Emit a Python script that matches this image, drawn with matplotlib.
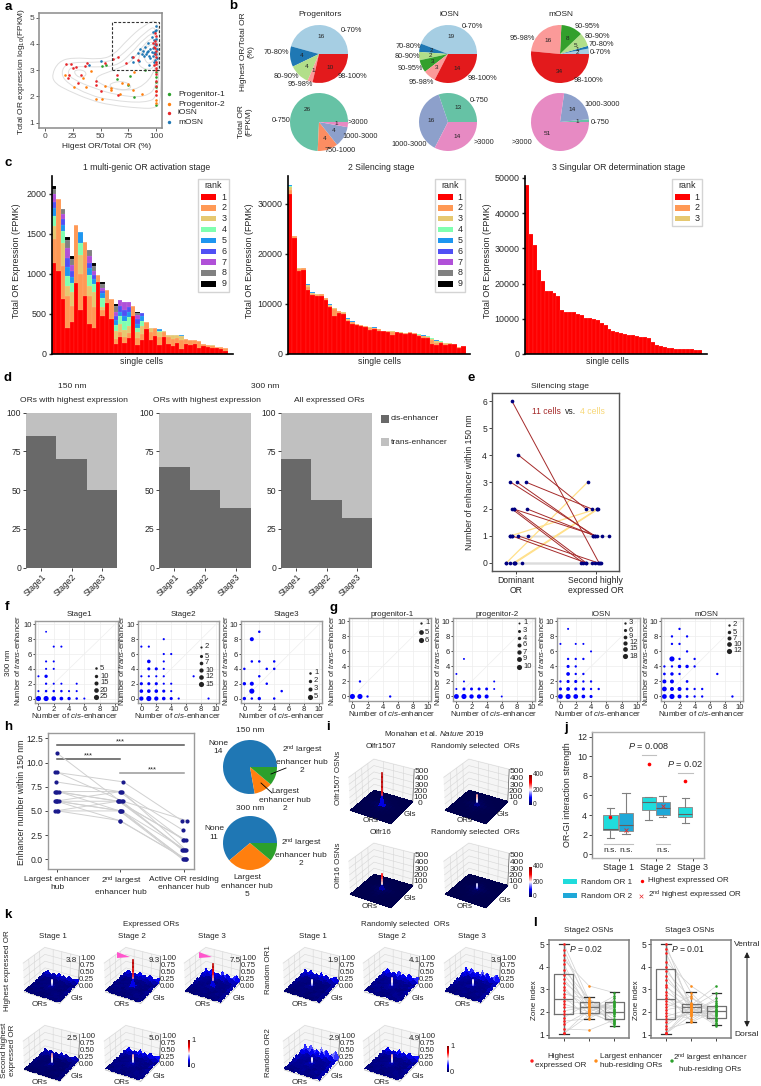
#!/usr/bin/env python
"""Multi-panel OR expression / enhancer hub figure. Writes out.png (761x1086)."""
import numpy as np

import matplotlib
matplotlib.use("Agg")
import matplotlib.pyplot as plt
from matplotlib.patches import PathPatch, Polygon, Rectangle
from matplotlib.path import Path

plt.rcParams["font.family"] = ["Liberation Sans", "DejaVu Sans"]
plt.rcParams["mathtext.fontset"] = "custom"
plt.rcParams["mathtext.rm"] = "Liberation Sans"
plt.rcParams["mathtext.it"] = "Liberation Sans:italic"
plt.rcParams["mathtext.bf"] = "Liberation Sans:bold"
plt.rcParams["axes.unicode_minus"] = False

W, H = 761, 1086
GREY = "#8a8a8a"
DARK = "#262626"

# ---- panel a
A_P1 = [(51, 3.15), (55, 3.21), (65, 2.68), (75, 2.45), (77, 2.78), (80, 1.99), (90, 3.0),
        (100, 1.67), (100, 2.35), (100, 2.55), (100, 2.75), (100, 2.95)]
A_P2 = [(18, 2.82), (26, 2.37), (34.5, 2.69), (36.6, 2.38), (41.4, 2.98), (46, 1.89), (51.4, 1.89),
        (54, 2.4), (59.5, 2.33), (59.5, 2.24), (67.5, 2.08), (69, 2.51), (75, 2.47), (79.6, 2.24),
        (87, 2.08), (80.5, 2.92), (100, 1.86), (100, 1.77), (100, 2.2)]
A_IOSN = [(18.6, 3.23), (23, 3.22), (25, 3.1), (28, 3.11), (38, 3.26), (36, 3.17), (54, 3.29),
          (61, 3.43), (65.5, 3.49), (73, 3.26), (79, 3.51), (84, 3.39), (21.6, 2.8), (20.7, 2.7),
          (32, 2.82), (30, 2.5), (46, 2.59), (46, 2.43), (50, 2.22), (65, 2.82), (65.5, 2.05),
          (99, 4.4), (100, 4.3), (99, 4.1), (100, 4.0), (98, 3.9), (100, 3.75), (99, 3.6),
          (100, 3.5), (100, 3.3), (98, 3.2), (100, 3.1), (100, 3.0), (100, 2.85), (100, 2.6),
          (100, 2.4), (100, 2.2), (100, 2.05), (99, 3.85), (97, 4.05), (100, 3.25)]
A_MOSN = [(50, 3.35), (40, 3.2), (79.6, 3.3), (84, 3.64), (78, 3.5), (86, 3.8), (87, 3.6), (88, 3.72),
          (89, 3.55), (90, 3.9), (91, 3.62), (92, 3.7), (93, 3.75), (93, 4.02), (94, 3.55), (95, 3.8),
          (95, 3.45), (96, 3.7), (96, 4.25), (97, 3.55), (97, 3.85), (97, 4.45), (98, 3.65),
          (98, 4.15), (98, 3.3), (99, 3.7), (99, 4.0), (99, 4.5), (99, 3.4), (100, 4.68), (100, 4.55),
          (100, 3.95), (100, 3.6), (100, 4.2), (101, 3.8), (101, 3.45), (94, 3.2), (85, 3.35)]
A_CONTOURS = [
    [(6, 2.82), (12, 3.32), (24, 3.49), (50, 3.41), (62, 3.58), (74, 4.15), (89, 4.72), (104, 5.0),
     (105, 1.86), (100, 1.55), (86, 1.55), (59, 1.67), (41, 1.86), (20, 2.24), (9, 2.5)],
    [(14, 2.9), (20, 3.3), (45, 3.3), (62, 3.35), (75, 3.8), (90, 4.45), (102, 4.75), (103, 2.0),
     (90, 1.75), (60, 1.85), (40, 2.05), (20, 2.5)],
    [(20, 2.9), (24, 3.15), (45, 3.12), (64, 3.15), (77, 3.6), (90, 4.25), (101, 4.5), (102, 2.4),
     (90, 1.95), (65, 2.05), (45, 2.3), (25, 2.65)],
    [(45, 2.75), (62, 3.0), (78, 3.3), (90, 4.05), (100, 4.3), (101, 3.0), (85, 2.25), (65, 2.25), (48, 2.5)],
    [(82, 3.3), (90, 3.95), (99, 4.15), (100, 3.1), (90, 3.0)],
    [(88, 3.65), (93, 3.95), (99, 4.0), (99.5, 3.4), (92, 3.2)],
    [(25, 3.0), (35, 3.02), (38, 2.8), (30, 2.7)],
    [(55, 2.45), (70, 2.62), (80, 2.35), (68, 2.2)],
]

# ---- panel b
B_TOP_LABELS = ["0-70%", "70-80%", "80-90%", "90-95%", "95-98%", "98-100%"]
B_TOP_COLORS = ["#a6cee3", "#1f78b4", "#b2df8a", "#33a02c", "#fb9a99", "#e31a1c"]
B_TOP = {"Progenitors": [16, 4, 4, 0, 1, 10], "iOSN": [19, 2, 2, 3, 3, 14], "mOSN": [2, 1, 5, 8, 16, 34]}
B_LOW_COLORS = ["#66c2a5", "#fc8d62", "#8da0cb", "#e78ac3"]
B_LOW = {"Progenitors": [26, 4, 4, 1], "iOSN": [13, 0, 16, 14], "mOSN": [1, 0, 14, 51]}

# ---- panel c
C_COLORS = ["#ff0000", "#ff9955", "#e6c870", "#80ffb0", "#1e96f0", "#5050f5", "#b050d8", "#808080", "#000000"]
C1_CELLS = [
    [1130, 300, 170, 120, 100, 80, 90, 70, 40], [1040, 890], [690, 410, 290, 140, 80, 70, 70, 60],
    [320, 400, 130, 120, 120, 110, 120, 100, 40], [400, 200, 170, 110, 80, 70, 80, 70, 40], [890, 720],
    [550, 450, 230, 160, 130], [720, 680], [370, 350, 130, 130, 90, 70, 80, 80],
    [320, 270, 180, 100, 60, 60, 50, 60, 30], [900, 90], [480, 70, 30, 120, 60, 30, 30, 50, 30],
    [640, 160], [440, 240], [120, 70, 100, 70, 60, 50, 60, 70, 20], [210, 60, 100, 100, 60, 70, 70],
    [140, 70, 90, 110, 70, 70, 100], [200, 60, 90, 110, 60, 60, 70], [470, 130],
    [110, 90, 70, 50, 60, 60, 50, 20, 20], [175, 70, 100, 70, 60, 35], [310, 90], [180, 100, 50],
    [220, 100], [110, 100, 60, 20, 20], [210, 60, 20], [125, 90, 25], [100, 90, 50], [135, 60, 45],
    [60, 110, 50, 0, 20], [130, 60], [110, 60], [130, 40], [80, 80], [100, 20], [85, 25], [80, 25, 5],
    [80, 5], [60, 25], [40, 40],
]
C2_R1 = [32000, 23200, 16500, 16700, 12800, 11800, 11600, 11600, 10800, 9300, 7600, 8200, 8000, 6500,
         6000, 5700, 5600, 5400, 4700, 5000, 4600, 4500, 4400, 3800, 4300, 4200, 4000, 4100, 4000, 3600,
         3200, 3100, 1900, 1700, 2200, 1700, 1900, 1900, 1200, 1500]
C2_R2 = [800, 300, 500, 400, 500, 200, 200, 300, 300, 300, 1400, 400, 200, 300, 300, 200, 150, 100, 500,
         100, 300, 100, 100, 600, 50, 50, 100, 200, 100, 200, 300, 200, 900, 500, 100, 300, 150, 50, 200, 100]
C2_R3 = [500, 0, 100, 100, 400, 100, 200, 100, 100, 100, 200, 0, 100, 100, 100, 50, 50, 100, 100, 0, 100, 0,
         100, 100, 50, 50, 100, 50, 50, 50, 100, 100, 200, 300, 100, 100, 50, 0, 50, 0]
C2_R4 = [200, 0, 0, 0, 100, 100, 0, 0, 0, 100, 0, 0, 0, 100, 50, 0, 0, 0, 0, 100, 0, 0, 0, 0, 0, 0, 0, 0,
         0, 50, 50, 100, 100, 100, 100, 50, 50, 0, 0, 0]
C2_R5 = [300, 0, 0, 0, 200, 100, 0, 0, 0, 100, 0, 0, 0, 100, 100, 0, 0, 0, 0, 100, 0, 0, 0, 0, 0, 0, 0, 0,
         0, 0, 100, 150, 100, 100, 0, 0, 0, 0, 0, 0]
C3_TOTAL = [48000, 34000, 30800, 23800, 20800, 18000, 17800, 17400, 16400, 12400, 12000, 11900, 11800,
            11400, 11000, 10200, 10100, 10000, 9700, 8900, 8300, 7000, 6500, 6200, 6000, 5800, 5500, 5300,
            5000, 4900, 4700, 4400, 3300, 2500, 2300, 2000, 1800, 1700, 1500, 1400, 1350, 1300, 1300, 1250, 1100]

# ---- panel d
D_STAGES = ["Stage1", "Stage2", "Stage3"]
D_CIS_150 = [85, 70, 50]
D_CIS_300 = [65, 50, 38.5]
D_CIS_ALL = [70, 44, 32]

# ---- panel e: (dominant x, y, second x, y)
E_RED = [(-.05, 6, 1.04, 0), (.03, 4, .88, 2), (-.07, 3, .99, 1), (.01, 3, .97, 1), (.12, 3, .95, 2),
         (.14, 2, .99, 1), (-.05, 2, .84, 0), (-.03, 2, 1.01, 1), (-.02, 2, .88, 0), (.03, 1, 1.03, 0),
         (-.05, 1, .88, 0)]
E_YELLOW = [(-.12, 0, .9, 3), (-.07, 1, 1.01, 2), (-.03, 0, 1.02, 2), (-.01, 0, 1.03, 2)]
E_GREY = [(-.05, 1, 1.08, 1), (.15, 1, 1.17, 1), (-.08, 1, .97, 1), (.08, 0, .95, 0), (-.07, 0, 1.07, 0),
          (-.12, 0, .82, 0), (-.03, 0, .99, 0), (-.01, 0, 1.05, 0)]

# ---- panels f, g: (cis, trans, cells)
F_STAGE1 = [(0, 0, 25), (1, 0, 25), (2, 0, 20), (3, 0, 12), (4, 0, 10), (5, 0, 5), (6, 0, 3), (0, 1, 3), (1, 1, 5),
            (2, 1, 5), (3, 1, 5), (4, 1, 3), (5, 1, 3), (1, 2, 4), (2, 2, 3), (3, 2, 3), (5, 2, 3), (0, 3, 3),
            (1, 3, 10), (1, 4, 3), (2, 4, 3), (1, 5, 3), (2, 5, 3), (2, 7, 3), (3, 7, 3), (1, 9, 2)]
F_STAGE2 = [(0, 0, 10), (1, 0, 15), (2, 0, 10), (3, 0, 7), (4, 0, 5), (5, 0, 2), (9, 0, 2), (0, 1, 7), (1, 1, 7),
            (2, 1, 7), (3, 1, 5), (4, 1, 2), (0, 2, 5), (1, 2, 5), (2, 2, 5), (3, 2, 2), (4, 2, 2), (0, 3, 2),
            (1, 3, 2), (2, 3, 2), (3, 3, 2), (7, 3, 2), (1, 4, 5), (2, 4, 5), (3, 4, 2), (1, 5, 7), (3, 5, 2),
            (3, 6, 2), (4, 6, 2), (0, 7, 2), (1, 7, 2), (3, 8, 2)]
F_STAGE3 = [(0, 0, 2), (1, 0, 1), (2, 0, 2), (4, 0, 1), (1, 1, 5), (5, 1, 1), (0, 2, 2), (1, 2, 3), (3, 2, 1),
            (2, 3, 1), (0, 4, 1), (3, 4, 1), (4, 4, 1), (1, 5, 1), (2, 5, 1), (4, 5, 1), (1, 8, 3), (2, 9, 1)]
G_PROG1 = [(0, 0, 6), (1, 0, 6), (2, 0, 1), (5, 0, 1), (1, 2, 1)]
G_PROG2 = [(0, 0, 9), (1, 0, 10), (2, 0, 7), (3, 0, 7), (4, 0, 6), (6, 0, 1), (0, 1, 1), (1, 1, 3), (2, 1, 3),
           (3, 1, 3), (4, 1, 3), (5, 1, 1), (1, 2, 1), (5, 2, 1), (0, 3, 1), (1, 5, 1)]
G_IOSN = [(0, 0, 15), (1, 0, 18), (2, 0, 15), (3, 0, 9), (4, 0, 6), (0, 1, 6), (1, 1, 9), (2, 1, 6), (3, 1, 6),
          (4, 1, 3), (5, 1, 3), (0, 2, 3), (1, 2, 6), (2, 2, 6), (3, 2, 3), (4, 2, 3), (1, 3, 9), (2, 3, 3),
          (3, 3, 3), (1, 4, 6), (2, 4, 3), (1, 5, 3), (2, 5, 3), (3, 5, 3), (4, 6, 2), (0, 7, 2), (2, 7, 2),
          (3, 7, 2), (1, 9, 2)]
G_MOSN = [(0, 0, 10), (1, 0, 12), (2, 0, 7), (3, 0, 3), (4, 0, 2), (5, 0, 2), (9, 0, 2), (0, 1, 10), (1, 1, 7),
          (2, 1, 7), (3, 1, 3), (4, 1, 2), (5, 1, 2), (0, 2, 7), (1, 2, 7), (3, 2, 3), (0, 3, 3), (1, 3, 5),
          (2, 3, 2), (7, 3, 2), (0, 4, 2), (1, 4, 2), (2, 4, 5), (3, 4, 5), (4, 4, 2), (1, 5, 12), (2, 5, 2),
          (4, 5, 2), (3, 6, 2), (1, 7, 2), (2, 7, 2), (1, 8, 2), (3, 8, 2), (2, 9, 2)]

# ---- panel h: enhancer number per cell at each of the three hubs, with side offsets
H_LARGEST = [11, 9, 9, 8, 7, 7, 7, 7, 6, 6, 6, 6, 6, 5, 5, 5]
H_SECOND = [6, 8, 6, 7, 7, 6, 6, 5, 7, 6, 5, 5, 4, 6, 5, 4]
H_ACTIVE = [1, 4, 4, 2, 1, 2, 1, 0, 3, 1, 0, 0, 0, 2, 1, 0]
H_OFF1 = [0, -.03, .01, -.01, -.03, -.01, .01, .03, -.03, -.01, .01, .03, .0, -.02, .0, .02]
H_OFF2 = [.0, .05, .04, -.01, .03, -.04, -.02, -.01, .01, .03, .03, .0, -.01, -.03, .02, .0]
H_OFF3 = [-.02, -.03, .05, -.01, .03, .03, .0, -.02, -.01, -.03, .0, .02, .04, .01, .02, .03]
H_PIE_150 = [14, 2, 2]
H_PIE_300 = [11, 5, 2]

# ---- panel j
J_STATS = [dict(med=2.6, q1=2.45, q3=4.0, whislo=1.6, whishi=4.7, fliers=[]),
           dict(med=2.95, q1=2.4, q3=4.2, whislo=2.05, whishi=6.25, fliers=[]),
           dict(med=5.35, q1=4.5, q3=5.85, whislo=3.5, whishi=5.85, fliers=[]),
           dict(med=4.75, q1=4.05, q3=5.3, whislo=3.8, whishi=5.9, fliers=[]),
           dict(med=4.1, q1=3.75, q3=4.8, whislo=3.15, whishi=5.7, fliers=[])]
J_POS = [-.22, .2, .81, 1.2, 1.8]
J_COLORS = ["#1fdcdc", "#1fa8d8", "#1fdcdc", "#1fa8d8", "#1fdcdc"]
J_HIGHEST_X = [-.22, .81, 1.8]
J_HIGHEST = [3.8, 9.25, 7.45]
J_SECOND_X = [.19, 1.2]
J_SECOND = [2.45, 4.95]

# ---- panel l
L2_RED = [5.0, 4.75, 4.5, 4.3, 4.1, 3.85, 3.65, 3.45, 3.3, 3.1, 2.95, 2.8, 2.65, 2.5, 2.35, 2.2, 2.05, 1.9, 1.75,
          1.6, 1.45, 1.25, 1.05, 1.05]
L2_ORANGE = [2.5, 2.2, 2.4, 3.15, 2.0, 2.6, 2.3, 2.1, 2.45, 1.9, 2.2, 2.55, 1.75, 2.35, 2.0, 2.15, 2.25, 1.95, 2.4,
             1.7, 2.05, 1.2, 1.85, 2.1]
L2_GREEN = [2.1, 2.4, 1.8, 2.85, 2.5, 1.6, 2.2, 2.7, 1.4, 2.0, 2.3, 1.9, 2.6, 1.5, 2.45, 1.7, 2.15, 1.55, 2.05,
            2.35, 1.45, 1.65, 1.95, 2.25]
L3_RED = [5.0, 4.8, 4.6, 4.2, 4.0, 3.8, 3.6, 3.4, 3.2, 3.1, 2.9, 2.75, 2.6, 2.5, 2.35, 2.2, 2.1, 1.95, 1.8, 1.7,
          1.55, 1.4, 1.25, 1.05, 1.05, 1.05]
L3_ORANGE = [2.1, 2.85, 2.3, 3.15, 2.0, 2.6, 2.2, 2.4, 1.8, 2.35, 2.15, 1.6, 2.25, 1.95, 2.05, 2.7, 2.3, 1.7, 2.15,
             1.9, 2.0, 2.2, 1.55, 1.85, 2.3, 2.1]
L3_GREEN = [2.2, 1.7, 3.15, 2.4, 1.9, 2.1, 2.85, 1.5, 2.3, 2.05, 1.8, 2.25, 1.45, 2.6, 2.0, 1.65, 2.15, 2.3, 1.95,
            1.75, 2.5, 1.6, 2.05, 1.85, 2.2, 1.4]
L2_STATS = [dict(med=2.57, q1=1.9, q3=3.68, whislo=1.03, whishi=5.0, fliers=[]),
            dict(med=2.2, q1=1.94, q3=2.43, whislo=1.7, whishi=2.66, fliers=[]),
            dict(med=2.01, q1=1.68, q3=2.43, whislo=1.38, whishi=2.87, fliers=[])]
L3_STATS = [dict(med=2.57, q1=1.68, q3=3.91, whislo=1.03, whishi=5.0, fliers=[]),
            dict(med=2.2, q1=1.99, q3=2.37, whislo=1.54, whishi=2.87, fliers=[]),
            dict(med=2.06, q1=1.72, q3=2.26, whislo=1.41, whishi=2.82, fliers=[])]

# ---- contact maps in panels i, k: hundredths, rows along GIs, columns along ORs
MAP_GRID = [0, .09, .18, .27, .36, .44, .5, .56, .64, .73, .82, .91, 1]
MAP_A = [[4, 8, 3, 6, 2, 5, 3, 4, 7, 3, 5, 2, 9], [3, 2, 5, 3, 6, 3, 4, 2, 4, 6, 3, 7, 4],
         [6, 4, 3, 7, 4, 2, 5, 6, 3, 4, 8, 3, 5], [2, 7, 5, 3, 5, 6, 4, 3, 5, 7, 3, 4, 10],
         [5, 3, 8, 4, 3, 7, 5, 6, 4, 3, 6, 5, 3], [8, 4, 3, 6, 7, 5, 8, 5, 6, 4, 3, 7, 12],
         [3, 6, 4, 5, 4, 8, 10, 7, 5, 6, 4, 3, 5], [10, 3, 7, 4, 6, 5, 7, 6, 3, 5, 7, 4, 8],
         [4, 5, 3, 8, 3, 6, 4, 5, 8, 3, 4, 6, 14], [12, 4, 6, 3, 7, 4, 6, 3, 4, 7, 5, 3, 6],
         [5, 9, 4, 10, 5, 8, 4, 9, 6, 5, 11, 4, 10], [14, 7, 16, 6, 12, 9, 18, 7, 13, 8, 6, 15, 8],
         [9, 22, 8, 15, 11, 26, 10, 19, 8, 24, 12, 17, 22]]
MAP_B = [[3, 5, 4, 2, 7, 3, 4, 6, 3, 5, 2, 8, 4], [6, 3, 2, 6, 3, 4, 7, 2, 5, 3, 6, 3, 11],
         [3, 7, 5, 3, 4, 8, 3, 5, 4, 7, 3, 5, 6], [9, 4, 3, 8, 5, 3, 6, 4, 3, 5, 8, 4, 13],
         [4, 6, 7, 3, 6, 5, 4, 7, 6, 3, 4, 6, 5], [13, 3, 5, 4, 8, 7, 9, 5, 4, 8, 5, 3, 9],
         [5, 8, 4, 7, 3, 9, 12, 8, 3, 4, 7, 5, 17], [16, 4, 6, 3, 5, 6, 8, 4, 7, 6, 3, 8, 6],
         [6, 5, 9, 5, 7, 3, 5, 6, 5, 4, 9, 4, 19], [11, 8, 3, 6, 4, 8, 4, 3, 8, 5, 4, 7, 8],
         [20, 6, 12, 5, 14, 6, 10, 7, 5, 12, 6, 9, 15], [8, 18, 7, 22, 8, 16, 9, 24, 10, 7, 20, 8, 11],
         [25, 10, 28, 12, 20, 9, 32, 13, 27, 11, 18, 30, 14]]
MAP_FLAT = [[1, 1, 1, 2, 1, 1, 2, 1, 1, 2, 1, 1, 1], [1, 2, 1, 1, 2, 2, 3, 2, 1, 1, 2, 1, 1],
            [2, 1, 2, 1, 2, 3, 4, 3, 2, 1, 1, 2, 1], [1, 1, 2, 2, 3, 4, 6, 4, 3, 2, 2, 1, 1],
            [1, 2, 2, 3, 4, 6, 9, 6, 4, 3, 1, 1, 2], [2, 1, 3, 4, 6, 12, 16, 12, 6, 4, 3, 2, 1],
            [3, 3, 4, 6, 9, 16, 20, 16, 9, 6, 4, 3, 3], [2, 1, 3, 4, 6, 12, 16, 12, 6, 4, 3, 1, 1],
            [1, 2, 2, 3, 4, 6, 9, 6, 4, 3, 2, 2, 1], [1, 1, 2, 2, 3, 4, 6, 4, 3, 2, 1, 1, 2],
            [2, 1, 1, 2, 2, 3, 4, 3, 2, 1, 2, 1, 1], [1, 1, 2, 1, 2, 2, 3, 2, 1, 2, 1, 1, 1],
            [1, 1, 1, 1, 1, 1, 2, 1, 1, 1, 1, 2, 1]]
# corner x, row y, texture, amplitude, central peak
K_PANELS = [(23, 975, MAP_A, .8, .3), (104, 975, MAP_A, .9, 1.0), (184, 975, MAP_B, .9, .85),
            (283, 975, MAP_B, .75, .3), (363, 975, MAP_A, 1.1, .35), (444, 975, MAP_B, 1.0, .3),
            (23, 1053, MAP_B, .55, .42), (104, 1053, MAP_A, 1.0, .4),
            (283, 1053, MAP_B, 1.15, .3), (363, 1053, MAP_A, 1.0, .4)]
K_VALUES = ["3.8", "9.3", "7.5", "1.9", "4.1", "3.9", "2.5", "5.0", "2.9", "4.9"]
# centre x, centre y, central peak
I_PANELS = [(381, 791, 500), (476, 791, 170), (381, 875, 250), (476, 875, 90)]
SPIKE_STEPS = [.15, .3, .45, .6, .75, .9, 1.0]


fig = plt.figure(figsize=(W / 100, H / 100), dpi=100)
ov = fig.add_axes([0, 0, 1, 1], zorder=50)
ov.set_xlim(0, W)
ov.set_ylim(H, 0)
ov.axis("off")


def T(x, y, s, fs=6.0, ha="center", va="center", **kw):
    ov.text(x, y, s, fontsize=fs, ha=ha, va=va, color=kw.pop("color", DARK), **kw)


def pax(l, t, r, b, **kw):
    return fig.add_axes([l / W, 1 - b / H, (r - l) / W, (b - t) / H], **kw)


def frame(ax, color=GREY, lw=1.0):
    for s in ax.spines.values():
        s.set_color(color)
        s.set_linewidth(lw)


def smooth_path(pts):
    """Closed outline: points act as quadratic control points."""
    pts = np.asarray(pts, float)
    mids = (pts + np.roll(pts, -1, axis=0)) / 2
    verts, codes = [mids[-1]], [Path.MOVETO]
    for p, m in zip(pts, mids):
        verts += [p, m]
        codes += [Path.CURVE3, Path.CURVE3]
    return Path(verts, codes)


def ticks(ax, fs=6.0, length=2, color=DARK):
    ax.tick_params(labelsize=fs, length=length, width=.6, pad=1.5, colors=color)


for letter, x, y in [("a", 8, 7), ("b", 233, 6), ("c", 8, 163), ("d", 8, 378), ("e", 471, 378), ("f", 7, 607),
                     ("g", 334, 608), ("h", 8, 727), ("i", 328, 727), ("j", 566, 728), ("k", 8, 915), ("l", 535, 923)]:
    T(x, y, letter, fs=9.5, fontweight="bold", color="black")

# ---- a
ax = pax(39, 13, 162, 128)
for c in A_CONTOURS:
    ax.add_patch(PathPatch(smooth_path(c), fill=False, ec="#dedede", lw=.7))
ax.add_patch(Rectangle((60, 3), 43, 1.85, fill=False, ec="#333333", lw=.8, ls=(0, (2.5, 1.5)), zorder=4))
for pts, col in [(A_P1, "#2ca02c"), (A_P2, "#ff7f0e"), (A_MOSN, "#1f77b4"), (A_IOSN, "#e8262a")]:
    ax.scatter(*zip(*pts), s=3.5, color=col, lw=0, zorder=3)
ax.set_xlim(-5.4, 105.4)
ax.set_ylim(.8, 5.18)
ax.set_xticks([0, 25, 50, 75, 100])
ax.set_yticks([1, 2, 3, 4, 5])
ticks(ax, color="#444444")
frame(ax, lw=1.1)
T(22, 72, "Total OR expression log$_{10}$(FPKM)", rotation=90)
T(107, 147, "Higest OR/Total OR (%)")
for y, lab, col in [(94, "Progenitor-1", "#2ca02c"), (104, "Progenitor-2", "#ff7f0e"), (113, "iOSN", "#e8262a"),
                    (122, "mOSN", "#1f77b4")]:
    ov.scatter([169], [y], s=6, color=col, lw=0)
    T(178, y, lab, ha="left")


# ---- b
def pie(cx, cy, r, vals, colors, inner=6, fs=4.6, dist=.6):
    ax = pax(cx - r, cy - r, cx + r, cy + r)
    lab = [str(v) if v else "" for v in vals]
    keep = [i for i, v in enumerate(vals) if v]
    wedges, _ = ax.pie([vals[i] for i in keep], colors=[colors[i] for i in keep], startangle=0, radius=1,
                       wedgeprops=dict(lw=0))
    if inner:
        for w, i in zip(wedges, keep):
            a = np.deg2rad((w.theta1 + w.theta2) / 2)
            ax.text(dist * np.cos(a), dist * np.sin(a), lab[i], fontsize=fs, ha="center", va="center", color="#222222")
    ax.set_xlim(-1, 1)
    ax.set_ylim(-1, 1)
    return ax


for (name, vals), cx in zip(B_TOP.items(), [319, 448, 560]):
    pie(cx, 54, 29, vals, B_TOP_COLORS)
    T(cx + 1, 15, name)
for (name, vals), cx in zip(B_LOW.items(), [319, 448, 560]):
    pie(cx, 122, 29, vals, B_LOW_COLORS)
for x, y, s in [(351, 31, "0-70%"), (276, 53, "70-80%"), (286, 76, "80-90%"), (300, 85, "95-98%"), (352, 77, "98-100%"),
                (281, 120, "0-750"), (358, 123, ">3000"), (360, 137, "1000-3000"), (340, 151, "750-1000"),
                (472, 26, "0-70%"), (408, 47, "70-80%"), (407, 57, "80-90%"), (410, 68, "90-95%"), (421, 82, "95-98%"),
                (482, 79, "98-100%"), (479, 101, "0-750"), (409, 144, "1000-3000"), (484, 143, ">3000"),
                (587, 27, "90-95%"), (597, 36, "80-90%"), (601, 44.5, "70-80%"), (600, 53, "0-70%"), (522, 38, "95-98%"),
                (588, 81, "98-100%"), (602, 104, "1000-3000"), (600, 122, "0-750"), (522, 143, ">3000")]:
    T(x, y, s, fs=5.3)
T(247, 52, "Highest OR/Total OR\n(%)", rotation=90, linespacing=1.1)
T(245, 122, "Total OR\n(FPKM)", rotation=90, linespacing=1.1)


# ---- c
def stacked(ax, rows, n_rank, ymax, yt):
    rows = np.array([list(r) + [0] * (n_rank - len(r)) for r in rows], float)
    x = np.arange(len(rows))
    bottom = np.zeros(len(rows))
    for i in range(n_rank):
        ax.bar(x, rows[:, i], 1, bottom=bottom, color=C_COLORS[i], ec=(1, 1, 1, .2), lw=.25)
        bottom += rows[:, i]
    ax.set_ylim(0, ymax)
    ax.set_yticks(yt)
    for s in ("top", "right"):
        ax.spines[s].set_visible(False)
    for s in ("left", "bottom"):
        ax.spines[s].set_linewidth(1.2)
    ax.set_xticks([])
    ticks(ax, fs=6.4)
    ax.tick_params(axis="y", width=1, length=2.5)
    return x


def rank_legend(l, t, r, b, n):
    ov.add_patch(Rectangle((l, t), r - l, b - t, fc="white", ec="#d4d4d4", lw=1, zorder=5))
    T((l + r) / 2, t + 7, "rank", fs=6.4, zorder=6)
    for i in range(n):
        y = t + 18 + i * 10.85
        ov.add_patch(Rectangle((l + 3, y - 2.7), 15, 5.4, fc=C_COLORS[i], ec="none", zorder=6))
        T(r - 5, y, str(i + 1), fs=6.4, zorder=6)


ax = pax(52, 176, 233, 354)
n = len(C1_CELLS)
stacked(ax, C1_CELLS, 9, 2220, [0, 500, 1000, 1500, 2000])
ax.set_xlim(-.5, n + .7)
rank_legend(198, 179, 229, 292, 9)

ax = pax(288, 176, 470, 354)
rows = list(zip(C2_R1, C2_R2, C2_R3, C2_R4, C2_R5))
stacked(ax, rows, 5, 35500, [0, 10000, 20000, 30000])
ax.set_xlim(-.5, len(rows) + .5)
rank_legend(435, 179, 465, 292, 9)

ax = pax(525, 176, 707, 354)
stacked(ax, [[v] for v in C3_TOTAL], 3, 50500, [0, 10000, 20000, 30000, 40000, 50000])
ax.set_xlim(-.5, len(C3_TOTAL) + .8)
rank_legend(672, 179, 702, 226, 3)

for x, y, s in [(147, 168, "1 multi-genic OR activation stage"), (381, 168, "2 Silencing stage"),
                (619, 168, "3 Singular OR determination stage"), (142, 362, "single cells"), (379, 362, "single cells"),
                (608, 362, "single cells")]:
    T(x, y, s, fs=6.2)
for x in (17, 250, 487):
    T(x, 261, "Total OR Expression (FPMK)", fs=6.4, rotation=90)

# ---- d
for (l, r), vals in zip([(26, 117), (159, 251), (281, 372)], [D_CIS_150, D_CIS_300, D_CIS_ALL]):
    ax = pax(l, 412.7, r, 567.7)
    x = np.arange(3)
    ax.bar(x, vals, 1, color="#696969", lw=0)
    ax.bar(x, [100 - v for v in vals], 1, bottom=vals, color="#c0c0c0", lw=0)
    ax.set_xlim(-.5, 2.5)
    ax.set_ylim(0, 100)
    ax.set_yticks([0, 25, 50, 75, 100])
    ax.set_xticks(x)
    ax.set_xticklabels(D_STAGES, rotation=45, ha="right", rotation_mode="anchor")
    ticks(ax, fs=6.2)
    for s in ax.spines.values():
        s.set_visible(False)
for x, y, s in [(72, 387, "150 nm"), (74, 400, "ORs with highest expression"), (265, 387, "300 nm"),
                (207, 400, "ORs with highest expression"), (329, 400, "All expressed ORs")]:
    T(x, y, s, fs=6.1)
ov.add_patch(Rectangle((381, 415), 8, 8, fc="#696969", ec="none"))
ov.add_patch(Rectangle((381, 438), 8, 8, fc="#c0c0c0", ec="none"))
T(391, 419, "cis-enhancer", ha="left", fs=6.0)
T(391, 442, "trans-enhancer", ha="left", fs=6.0)

# ---- e
ax = pax(492, 393, 619, 571)
for rows, col, lw in [(E_GREY, "#dcdcdc", 1.0), (E_YELLOW, "#ffe08a", .9), (E_RED, "#a52a2a", .7)]:
    for x0, y0, x1, y1 in rows:
        ax.plot([x0, x1], [y0, y1], color=col, lw=lw, zorder=2)
    ax.scatter([r[0] for r in rows] + [r[2] for r in rows], [r[1] for r in rows] + [r[3] for r in rows], s=7,
               color="#000080", lw=0, zorder=3)
ax.set_xlim(-.3, 1.29)
ax.set_ylim(-.3, 6.3)
ax.set_xticks([0, 1])
ax.set_xticklabels(["Dominant\nOR", "Second highly\nexpressed OR"])
ax.set_yticks(range(7))
ticks(ax, fs=6.2)
frame(ax, "#555555", 1.0)
T(560, 386, "Silencing stage", fs=6.1)
T(470, 482, "Number of enhancer within 150 nm", fs=6.2, rotation=90)
T(532, 411, "11 cells", color="#a52a2a", ha="left", fs=6.2)
T(565, 411, "vs.", color=DARK, ha="left", fs=6.2)
T(580, 411, "4 cells", color="#f8d878", ha="left", fs=6.2)


# ---- f, g
def bubbles(box, data, xl, yl, title, tx, leg, mx, tmx, ys):
    ax = pax(*box)
    top = max(d[2] for d in data)
    ax.plot([-1, 11], [-1, 11], color="#eeeeee", lw=.5, zorder=1)
    ax.scatter([d[0] for d in data], [d[1] for d in data], s=[.7 + 13 * d[2] / top for d in data], color="#0000ff",
               lw=0, zorder=3)
    ax.set_xlim(-.45, 10.4)
    ax.set_ylim(-.6, 10.45)
    ax.set_xticks(range(0, 11, 2))
    ax.set_yticks(range(0, 11, 2))
    ax.grid(color="#ededed", lw=.5)
    ax.set_axisbelow(True)
    ticks(ax, fs=5.5)
    ax.tick_params(length=1.5, pad=.8)
    frame(ax, "#9a9a9a", 1.0)
    T(xl, 716 if box[0] < 330 else 714, "Number of $\\mathit{cis}$-enhancer", fs=5.8)
    T(yl - 2, 661, "Number of $\\mathit{trans}$-enhancer", fs=5.5, rotation=90)
    T(tx, 614, title, fs=5.8)
    for v, y in zip(leg, ys):
        ov.scatter([mx], [y], s=.7 + 13 * v / max(leg), color="#222222", lw=0, zorder=6)
        T(tmx, y, str(v), fs=5.5, ha="left", zorder=6)


bubbles((35, 621, 118, 703), F_STAGE1, 75, 20, "Stage1", 79, [5, 10, 15, 20, 25], 96, 100, [668, 676, 683, 690, 697])
bubbles((138, 621, 219, 703), F_STAGE2, 178, 124, "Stage2", 183, [2, 5, 7, 10, 12, 15], 201, 205,
        [647, 656, 663, 670, 677, 684])
bubbles((241, 621, 322, 703), F_STAGE3, 282, 227, "Stage3", 286, [1, 2, 3, 5], 310, 314, [673, 681, 689, 697])
bubbles((349, 618, 431, 701), G_PROG1, 392, 333, "progenitor-1", 392, [1, 5, 6], 421, 425, [623, 632, 640])
bubbles((453, 618, 535, 701), G_PROG2, 494, 440, "progenitor-2", 497, [1, 3, 4, 6, 7, 9, 10], 519, 523,
        [623, 631, 638, 645, 652, 659, 667])
bubbles((557, 618, 640, 701), G_IOSN, 598, 544, "iOSN", 601, [3, 6, 9, 12, 15, 18], 625, 629,
        [623, 630, 637, 643, 649, 656])
bubbles((661, 618, 743, 701), G_MOSN, 702, 648, "mOSN", 706, [2, 5, 7, 10, 12], 729, 733, [625, 632, 638, 644, 651])
T(8, 663, "300 nm", fs=5.8, rotation=90)

# ---- h
ax = pax(47.7, 733, 194, 869)
for i in range(len(H_LARGEST)):
    xs = [H_OFF1[i], 1 + H_OFF2[i], 2 + H_OFF3[i]]
    ys = [H_LARGEST[i], H_SECOND[i], H_ACTIVE[i]]
    ax.plot(xs, ys, color="#d0d0d0", lw=.7, zorder=2)
    ax.scatter(xs, ys, s=9, color="#1a1a8c", lw=0, zorder=3)
for x0, x1, y, c in [(0, 2, 11.8, "#555555"), (0, 1, 10.37, "#555555"), (1, 2, 8.95, "#999999")]:
    ax.plot([x0, x1], [y, y], color=c, lw=1.1, zorder=1)
    ax.text((x0 + x1) / 2, y - .05, "***", fontsize=5.5, ha="center", va="bottom", color=DARK)
ax.set_xlim(-.14, 2.16)
ax.set_ylim(-1.0, 13.05)
ax.set_yticks([0, 2.5, 5, 7.5, 10, 12.5])
ax.set_yticklabels(["0.0", "2.5", "5.0", "7.5", "10.0", "12.5"])
ax.set_xticks([0, 1, 2])
ax.set_xticklabels([])
ticks(ax, fs=6.2)
frame(ax, "#9a9a9a", 1.0)
T(22, 802, "Enhancer number within 150 nm", fs=6.2, rotation=90)
T(57, 883.5, "Largest enhancer\nhub", fs=6.0, linespacing=1.25)
T(121, 885.5, "2$^{\\mathrm{nd}}$ largest\nenhancer hub", fs=6.0, linespacing=1.25)
T(184, 883.5, "Active OR residing\nenhancer hub", fs=6.0, linespacing=1.25)
H_COLORS = ["#1f77b4", "#ff7f0e", "#2ca02c"]
pie(250, 767, 27, H_PIE_150, H_COLORS, inner=0)
pie(250, 843, 27, H_PIE_300, H_COLORS, inner=0)
T(250, 731, "150 nm")
T(250, 809, "300 nm")
T(218, 747.5, "None\n14", linespacing=1.25)
T(214, 833, "None\n11", linespacing=1.25)
T(302, 759, "2$^{\\mathrm{nd}}$ largest\nenhancer hub\n2", linespacing=1.25)
T(285, 800, "Largest\nenhancer hub\n2", linespacing=1.25)
T(301, 852, "2$^{\\mathrm{nd}}$ largest\nenhancer hub\n2", linespacing=1.25)
T(247, 886, "Largest\nenhancer hub\n5", linespacing=1.25)
ov.plot([271, 286], [774, 768], color="black", lw=.6)
ov.plot([261, 272], [783, 793], color="black", lw=.6)


# ---- i, k: contact maps
def colorbar(l, t, r, b):
    cax = pax(l, t, r, b)
    cax.imshow(np.linspace(1, 0, 64)[:, None], aspect="auto", cmap="seismic", vmin=0, vmax=1)
    cax.axis("off")


def map3d(cx, cy, half, tex, amp, peak, ztop, zt, ztl, zfs, vmax):
    ax = fig.add_axes([(cx - half) / W, 1 - (cy + half) / H, 2 * half / W, 2 * half / H], projection="3d",
                      computed_zorder=False)
    ax.patch.set_alpha(0)
    x, y = np.meshgrid(MAP_GRID, MAP_GRID)
    z = np.array(tex, float) / 100 * amp * ztop
    c = len(MAP_GRID) // 2
    z[c, c] = max(z[c, c], peak * .35)
    ax.plot_surface(x, y, z, cmap="seismic", vmin=0, vmax=vmax * .6, rstride=1, cstride=1, lw=0, antialiased=False,
                    zorder=1)
    cmap = plt.get_cmap("seismic")
    prev = z[c, c] / peak
    for s in SPIKE_STEPS:
        if s > prev:
            level = s * peak / vmax
            ax.plot([.5, .5], [.5, .5], [peak * prev, peak * s], color=cmap(min(.88, .3 + .7 * level)), lw=1.2, zorder=5)
            prev = s
    ax.view_init(elev=30, azim=-60)
    ax.set_box_aspect((1, 1, .8), zoom=1.0)
    ax.set_xlim(0, 1)
    ax.set_ylim(0, 1)
    ax.set_zlim(0, ztop)
    ax.set_xticks([.25, .5, .75])
    ax.set_yticks([.25, .5, .75])
    ax.set_xticklabels([])
    ax.set_yticklabels([])
    ax.set_zticks(zt)
    ax.set_zticklabels(ztl)
    ax.tick_params(axis="z", labelsize=zfs, pad=-4.5, colors=DARK)
    for a in (ax.xaxis, ax.yaxis, ax.zaxis):
        a.set_pane_color((.96, .96, .96, 1))
        a.line.set_color("#bbbbbb")
        a.line.set_linewidth(.5)
        a._axinfo["grid"].update(color="#d6d6d6", linewidth=.4)
        a._axinfo["tick"].update(inward_factor=0, outward_factor=0)
    ax.zaxis.line.set_color("#555555")
    return ax


for cx, cy, peak in I_PANELS:
    map3d(cx, cy, 37, MAP_FLAT, .12, peak, 500, [0, 100, 200, 300, 400, 500], ["0", "100", "200", "300", "400", "500"],
          6, 400)
for (c, cy, tex, amp, peak) in K_PANELS:
    map3d(c + 28, cy, 32, tex, amp, peak, 1.0, [0, .25, .5, .75, 1], ["0.00", "0.25", "0.50", "0.75", "1.00"], 5.6, 1)

colorbar(529, 775, 532, 805)
colorbar(529, 867, 532, 897)
for y0 in (775, 867):
    T(533, y0, "400", fs=4.8, ha="left")
    T(533, y0 + 15, "200", fs=4.8, ha="left")
    T(533, y0 + 30, "0", fs=4.8, ha="left")
colorbar(188, 1040, 190, 1067)
colorbar(447, 1046, 449, 1072)
for x, t, b in [(191, 1040, 1067), (450, 1046, 1072)]:
    T(x, t, "1", fs=5.4, ha="left")
    T(x, b, "0", fs=5.4, ha="left")

T(434, 734, "Monahan et al. $\\mathit{Nature}$ 2019", fs=5.8)
for x, y, s in [(381, 746, "Olfr1507"), (475, 746, "Randomly selected  ORs"), (381, 832, "Olfr16"),
                (475, 832, "Randomly selected  ORs"), (371, 821, "ORs"), (410, 815, "GIs"), (465, 821, "ORs"),
                (503, 815, "GIs"), (370, 906, "ORs"), (410, 898, "GIs"), (465, 906, "ORs"), (505, 900, "GIs")]:
    T(x, y, s, fs=5.8)
T(338, 778, "Olfr1507 OSNs", fs=5.8, rotation=90)
T(338, 865, "Olfr16 OSNs", fs=5.8, rotation=90)

T(151, 925, "Expressed ORs", fs=5.8)
T(405, 925, "Randomly selected  ORs", fs=5.8)
for x, s in zip([53, 132, 212, 313, 392, 472], ["Stage 1", "Stage 2", "Stage 3"] * 2):
    T(x, 936, s, fs=5.8)
T(8, 971, "Highest expressed OR", fs=5.8, rotation=90)
T(9, 1050, "Second highest\nexpressed OR", fs=5.8, rotation=90, linespacing=1.2)
T(269, 970, "Random OR1", fs=5.8, rotation=90)
T(269, 1053, "Random OR2", fs=5.8, rotation=90)
for x, s in zip([71, 154, 235, 333, 414, 496], K_VALUES[:6]):
    T(x, 961, s, fs=5.8)
for x, s in zip([72, 154, 334, 414], K_VALUES[6:]):
    T(x, 1038, s, fs=5.8)
for x in [40, 122, 203, 300, 382, 463]:
    T(x, 1005, "ORs", fs=5.8)
for x in [77, 159, 239, 337, 418, 499]:
    T(x, 999, "GIs", fs=5.8)
for x in [40, 122, 300, 382]:
    T(x, 1082, "ORs", fs=5.8)
for x in [77, 159, 337, 418]:
    T(x, 1077, "GIs", fs=5.8)
for x in (117, 199):
    ov.add_patch(Polygon([(x, 952), (x, 958), (x + 13, 957)], fc="#ff55cc", ec="none"))

# ---- j
ax = pax(592, 732, 704, 858)
bp = ax.bxp(J_STATS, positions=J_POS, widths=.38, patch_artist=True, showfliers=False, manage_ticks=False,
            boxprops=dict(edgecolor="#909090", lw=.7), medianprops=dict(color="#606060", lw=.8),
            whiskerprops=dict(color="#808080", lw=.8), capprops=dict(color="#808080", lw=.8))
for b, c in zip(bp["boxes"], J_COLORS):
    b.set_facecolor(c)
ax.scatter(J_HIGHEST_X, J_HIGHEST, s=7, color="#ff0000", lw=0, zorder=5)
ax.scatter(J_SECOND_X, J_SECOND, s=8, color="#e8262a", marker="x", lw=.6, zorder=5)
for x0, x1, y in [(-.4, -.02, 1.0), (.01, .39, 1.0), (1.0, 1.38, 1.0), (.64, 1.0, 10.1), (1.62, 2.0, 8.3)]:
    ax.plot([x0, x1], [y, y], color="#c0c0c0", lw=.8)
for x, s in [(-.22, "n.s."), (.2, "n.s."), (1.2, "n.s.")]:
    ax.text(x, .4, s, fontsize=6, ha="center", va="center", color=DARK)
ax.text(.81, 11.05, "$\\mathit{P}$ = 0.008", fontsize=6.6, ha="center", va="center", color=DARK)
ax.text(1.8, 9.25, "$\\mathit{P}$ = 0.02", fontsize=6.6, ha="center", va="center", color=DARK)
ax.set_xlim(-.72, 2.31)
ax.set_ylim(-.4, 12.5)
ax.set_xticks([0, 1, 2])
ax.set_xticklabels(["Stage 1", "Stage 2", "Stage 3"])
ax.set_yticks(range(0, 13, 2))
ticks(ax, fs=6.4)
frame(ax, "#b0b0b0", 1.0)
ax.spines["left"].set_color("#888888")
T(568, 795, "OR-GI interaction strength", fs=6.4, rotation=90)
ov.add_patch(Rectangle((563, 879), 14, 5, fc="#1fdcdc", ec="none"))
ov.add_patch(Rectangle((563, 893), 14, 5, fc="#1fa8d8", ec="none"))
T(581, 882, "Random OR 1", fs=5.8, ha="left")
T(581, 896, "Random OR 2", fs=5.8, ha="left")
ov.scatter([642], [881], s=6, color="#ff0000", lw=0)
ov.scatter([641], [896], s=7, color="#e8262a", marker="x", lw=.5)
T(648, 881, "Highest expressed OR", fs=5.8, ha="left")
T(648, 895, "2$^{\\mathrm{nd}}$ highest expressed OR", fs=5.8, ha="left")


# ---- l
def zone(box, stats, red, orange, green, title, tx, yl):
    ax = pax(*box)
    for a, b, c in zip(red, orange, green):
        ax.plot([0, 1, 2], [a, b, c], color="#d0d0d0", lw=.5, zorder=1)
    ax.bxp(stats, positions=[0, 1, 2], widths=.76, showfliers=False, manage_ticks=False,
           boxprops=dict(color="#707070", lw=.9), medianprops=dict(color="#707070", lw=.9),
           whiskerprops=dict(color="#707070", lw=.9), capprops=dict(color="#303030", lw=.9))
    ax.plot([0, 0], [1.05, 5], color="#707070", lw=.9, zorder=2)
    ax.scatter([0] * len(red), red, s=3.5, color="#ff2020", lw=0, zorder=4)
    ax.scatter([1] * len(orange), orange, s=3.5, color="#ff8c1a", lw=0, zorder=4)
    ax.scatter([2] * len(green), green, s=3.5, color="#2ca02c", lw=0, zorder=4)
    ax.set_xlim(-.59, 2.58)
    ax.set_ylim(.85, 5.18)
    ax.set_xticks([0, 1, 2])
    ax.set_xticklabels([])
    ax.set_yticks(range(1, 6))
    ticks(ax, fs=6.2)
    frame(ax, "#808080", 1.1)
    T(tx, 931, title, fs=5.8)
    T(yl, 1000, "Zone index", fs=5.8, rotation=90)


zone((549, 940, 629, 1038), L2_STATS, L2_RED, L2_ORANGE, L2_GREEN, "Stage2 OSNs", 589, 535)
zone((651, 940, 731, 1038), L3_STATS, L3_RED, L3_ORANGE, L3_GREEN, "Stage3 OSNs", 690, 637)
T(586, 949, "$\\mathit{P}$ = 0.02", fs=6.2)
T(688, 949, "$\\mathit{P}$ = 0.01", fs=6.2)
ov.annotate("", xy=(747, 952), xytext=(747, 1027), arrowprops=dict(arrowstyle="<|-|>", color="#222222", lw=.7,
                                                                  mutation_scale=8, shrinkA=0, shrinkB=0))
T(747, 944, "Ventral", fs=6)
T(747, 1034, "Dorsal", fs=6)
ov.scatter([532, 596, 672], [1061, 1061, 1061], s=6, color=["#ff2020", "#ff8c1a", "#2ca02c"], lw=0)
T(561, 1061, "Highest\nexpressed OR", fs=5.8, linespacing=1.25)
T(631, 1061, "Largest enhancer\nhub-residing ORs", fs=5.8, linespacing=1.25)
T(710, 1062, "2$^{\\mathrm{nd}}$ largest enhancer\nhub-residing ORs", fs=5.8, linespacing=1.25)

fig.savefig("out.png", dpi=100)
print("wrote out.png")
